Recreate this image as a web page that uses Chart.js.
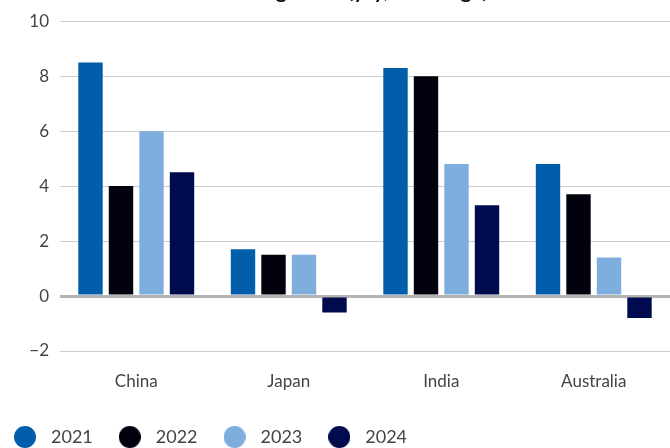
<!DOCTYPE html>
<html>
<head>
<meta charset="utf-8">
<script src="https://cdn.jsdelivr.net/npm/chart.js@4.4.0/dist/chart.umd.min.js"></script>
<style>
  html, body { margin: 0; padding: 0; background: #fff; }
  #wrap { position: relative; width: 670px; height: 448px; overflow: hidden; }
  #title { position: absolute; left: 0; width: 670px; top: -21px; text-align: center;
           font: bold 21px Lato, sans-serif; color: #111; line-height: 22px; }
  canvas { position: absolute; left: 0; top: 0; }
</style>
</head>
<body>
<div id="wrap">
  <canvas id="c" width="670" height="448"></canvas>
  <div id="title">Real GDP growth (y/y, % change)</div>
</div>
<script>
const categories = ['China', 'Japan', 'India', 'Australia'];
const seriesNames = ['2021', '2022', '2023', '2024'];
const values2021 = [8.5, 1.7, 8.3, 4.8];
const values2022 = [4.0, 1.5, 8.0, 3.7];
const values2023 = [6.0, 1.5, 4.8, 1.4];
const values2024 = [4.5, -0.6, 3.3, -0.8];
const yTicks = [-2, 0, 2, 4, 6, 8, 10];
const colors = ['#005eab', '#02020f', '#7eaedd', '#000b4d'];

function dot(color) {
  const cv = document.createElement('canvas');
  cv.width = 22; cv.height = 22;
  const g = cv.getContext('2d');
  g.fillStyle = color;
  g.beginPath(); g.arc(11, 11, 11, 0, Math.PI * 2); g.fill();
  return cv;
}

const allValues = [values2021, values2022, values2023, values2024];
const datasets = allValues.map((v, i) => ({
  label: seriesNames[i],
  data: v,
  backgroundColor: colors[i],
  borderWidth: 0,
  pointStyle: dot(colors[i]),
  categoryPercentage: 0.8,
  barPercentage: 0.8
}));

const textColor = '#444';
const fam = 'Lato, "Open Sans", sans-serif';

new Chart(document.getElementById('c'), {
  type: 'bar',
  data: { labels: categories, datasets },
  options: {
    responsive: false,
    animation: false,
    layout: { padding: { left: -12, right: 0, top: 12, bottom: -8 } },
    plugins: {
      title: { display: false },
      tooltip: { enabled: false },
      legend: {
        position: 'bottom',
        align: 'start',
        labels: {
          usePointStyle: true,
          pointStyleWidth: 34,
          boxHeight: 18,
          padding: 20,
          color: textColor,
          font: { family: fam, size: 18 }
        }
      }
    },
    scales: {
      x: {
        grid: { display: false, drawTicks: false },
        border: { display: false },
        ticks: { color: textColor, font: { family: fam, size: 17 }, padding: 20 },
        afterFit: s => { s.height = 57; }
      },
      y: {
        min: -2, max: 10,
        afterBuildTicks: s => { s.ticks = yTicks.map(v => ({ value: v })); },
        grid: {
          drawTicks: false,
          color: ctx => ctx.tick && ctx.tick.value === 0 ? '#b4b4b4' : '#cccccc',
          lineWidth: ctx => ctx.tick && ctx.tick.value === 0 ? 3 : 1
        },
        border: { display: false },
        ticks: {
          color: textColor,
          font: { family: fam, size: 17 },
          padding: 11,
          callback: v => String(v).replace('-', '\u2212')
        },
        afterFit: s => { s.width = 72; }
      }
    }
  }
});
</script>
</body>
</html>
